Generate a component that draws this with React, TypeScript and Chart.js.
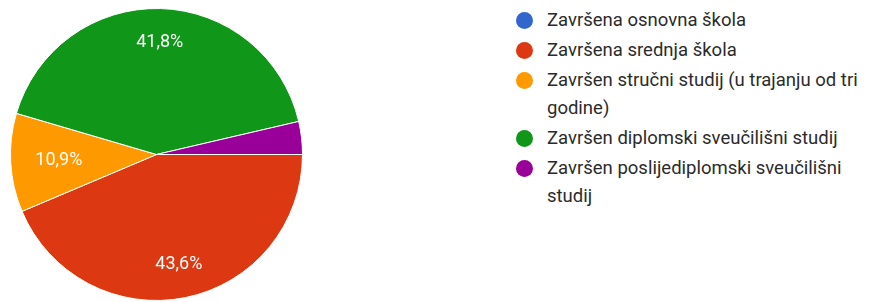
import React, { useEffect, useRef } from "react";
import { Chart, registerables } from "chart.js";

Chart.register(...registerables);

const categories: string[] = [
  "Završena osnovna škola",
  "Završena srednja škola",
  "Završen stručni studij (u trajanju od tri godine)",
  "Završen diplomski sveučilišni studij",
  "Završen poslijediplomski sveučilišni studij",
];
const legendLines: string[][] = [
  ["Završena osnovna škola"],
  ["Završena srednja škola"],
  ["Završen stručni studij (u trajanju od tri", "godine)"],
  ["Završen diplomski sveučilišni studij"],
  ["Završen poslijediplomski sveučilišni", "studij"],
];
const counts: number[] = [0, 24, 6, 23, 2];
const colors: string[] = ["#3366cc", "#dc3912", "#ff9900", "#109618", "#990099"];

const FONT = "Roboto, 'Liberation Sans', Arial, sans-serif";

const labelPlugin = {
  id: "sliceLabels",
  afterDatasetsDraw(chart: any) {
    const ctx = chart.ctx;
    const meta = chart.getDatasetMeta(0);
    const data = chart.data.datasets[0].data as number[];
    const total = data.reduce((a, b) => a + b, 0);
    ctx.save();
    ctx.fillStyle = "#ffffff";
    ctx.font = `18px ${FONT}`;
    ctx.textAlign = "center";
    ctx.textBaseline = "middle";
    meta.data.forEach((arc: any, i: number) => {
      const v = data[i];
      const frac = v / total;
      if (frac < 0.05) return;
      const { x, y, startAngle, endAngle, outerRadius } = arc.getProps(
        ["x", "y", "startAngle", "endAngle", "outerRadius"],
        true
      );
      const mid = (startAngle + endAngle) / 2;
      const f = frac < 0.15 ? 0.67 : 0.77;
      const lx = x + Math.cos(mid) * outerRadius * f;
      const ly = y + Math.sin(mid) * outerRadius * f;
      const txt = (frac * 100).toFixed(1).replace(".", ",") + "%";
      ctx.fillText(txt, lx, ly);
    });
    ctx.restore();
  },
};

export default function App() {
  const ref = useRef<HTMLCanvasElement | null>(null);
  useEffect(() => {
    if (!ref.current) return;
    const chart = new Chart(ref.current, {
      type: "pie",
      data: {
        labels: categories,
        datasets: [
          {
            data: counts,
            backgroundColor: colors,
            borderColor: "#ffffff",
            borderWidth: 1,
          },
        ],
      },
      options: {
        responsive: false,
        animation: false,
        rotation: 90,
        layout: { padding: 0 },
        plugins: {
          legend: { display: false },
          tooltip: { enabled: false },
        },
      },
      plugins: [labelPlugin],
    });
    return () => chart.destroy();
  }, []);

  const rowTops = [8, 38, 68, 126, 156];
  return (
    <div
      style={{
        position: "absolute",
        left: 0,
        top: 0,
        width: 882,
        height: 302,
        overflow: "hidden",
        background: "#ffffff",
        fontFamily: FONT,
      }}
    >
      <canvas
        ref={ref}
        width={293}
        height={293}
        style={{ position: "absolute", left: 10, top: 8, width: 293, height: 293 }}
      />
      {legendLines.map((lines, i) => (
        <div
          key={i}
          style={{
            position: "absolute",
            left: 516,
            top: rowTops[i],
            display: "flex",
            alignItems: "flex-start",
          }}
        >
          <div
            style={{
              width: 17,
              height: 17,
              borderRadius: "50%",
              background: colors[i],
              marginTop: 4,
              marginRight: 14,
              flexShrink: 0,
            }}
          />
          <div style={{ fontSize: 18.5, lineHeight: "28px", color: "#2b2b2b", marginTop: -2, whiteSpace: "nowrap" }}>
            {lines.map((l, j) => (
              <div key={j}>{l}</div>
            ))}
          </div>
        </div>
      ))}
    </div>
  );
}
